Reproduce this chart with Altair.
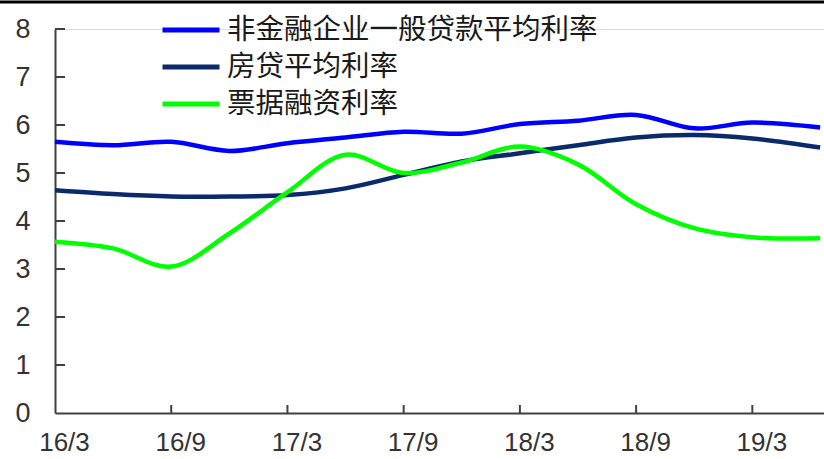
import altair as alt
import pandas as pd

series_names = ["非金融企业一般贷款平均利率", "房贷平均利率", "票据融资利率"]
series_colors = ["#0000FF", "#0A2A6B", "#00FF00"]

# month index from 2016-03 (0) ; quarterly observations
months = [0, 3, 6, 9, 12, 15, 18, 21, 24, 27, 30, 33, 36, 39.5]
corp_loan = [5.65, 5.58, 5.65, 5.46, 5.62, 5.74, 5.86, 5.82, 6.02, 6.09, 6.21, 5.93, 6.05, 5.95]
mortgage = [4.64, 4.56, 4.51, 4.51, 4.54, 4.68, 4.96, 5.24, 5.41, 5.58, 5.74, 5.79, 5.72, 5.53]
bill = [3.57, 3.43, 3.05, 3.74, 4.60, 5.38, 5.00, 5.22, 5.55, 5.18, 4.35, 3.85, 3.66, 3.64]

x_tick_values = [0, 6, 12, 18, 24, 30, 36]
x_tick_labels = ["16/3", "16/9", "17/3", "17/9", "18/3", "18/9", "19/3"]
y_tick_values = [0, 1, 2, 3, 4, 5, 6, 7, 8]

rows = []
for name, vals in zip(series_names, [corp_loan, mortgage, bill]):
    for m, v in zip(months, vals):
        rows.append({"m": m, "v": v, "s": name})
df = pd.DataFrame(rows)

W, H = 769, 384
x_scale = alt.Scale(domain=[0, 39.7], nice=False, zero=False)
y_scale = alt.Scale(domain=[0, 8], nice=False)

label_arr = "[" + ",".join("'%s'" % t for t in x_tick_labels) + "]"

x_axis = alt.Axis(values=x_tick_values, title=None, ticks=False, grid=False,
                  labelExpr=label_arr + "[round(datum.value/6)]",
                  labelFont="Liberation Sans", labelFontSize=26, labelFlush=False,
                  labelColor="#333333", labelPadding=16, labelOffset=9,
                  domainColor="#404040", domainWidth=2)
y_axis = alt.Axis(values=y_tick_values, title=None, ticks=False, grid=False,
                  labelFont="Liberation Sans", labelFontSize=27, labelFlush=False,
                  labelColor="#333333", labelPadding=25,
                  domainColor="#404040", domainWidth=2)

lines = alt.Chart(df).mark_line(
    strokeWidth=4.5, interpolate="catmull-rom"
).encode(
    x=alt.X("m:Q", scale=x_scale, axis=x_axis),
    y=alt.Y("v:Q", scale=y_scale, axis=y_axis),
    color=alt.Color("s:N", sort=series_names,
                    scale=alt.Scale(domain=series_names, range=series_colors),
                    legend=alt.Legend(title=None, orient="none", legendX=105, legendY=-14,
                                      symbolType="stroke", symbolStrokeWidth=5,
                                      symbolSize=3249, clipHeight=30, rowPadding=7,
                                      labelFont="Noto Sans CJK SC", labelFontSize=28.5,
                                      labelColor="#1a1a1a", labelOffset=5, padding=0,
                                      labelLimit=600)),
)

ytick_df = pd.DataFrame({"t": y_tick_values[1:]})
yticks = alt.Chart(ytick_df).mark_rule(color="#404040", strokeWidth=2).encode(
    y=alt.Y("t:Q", scale=y_scale, axis=y_axis),
    x=alt.value(0), x2=alt.value(10),
)
xtick_df = pd.DataFrame({"t": x_tick_values[1:]})
xticks = alt.Chart(xtick_df).mark_rule(color="#404040", strokeWidth=2).encode(
    x=alt.X("t:Q", scale=x_scale, axis=x_axis),
    y=alt.value(H), y2=alt.value(H - 8),
)
topline = alt.Chart(pd.DataFrame({"a": [0]})).mark_rule(color="#000000", strokeWidth=3).encode(
    x=alt.value(-55), x2=alt.value(W), y=alt.value(-27),
)

chart = alt.layer(lines, yticks, xticks, topline).properties(
    width=W, height=H,
    autosize=alt.AutoSizeParams(type="none"),
    padding={"left": 55, "top": 29, "right": 0, "bottom": 46},
).configure_view(stroke=None).configure(background="white")

chart.save("out.html", embed_options={"renderer": "svg", "actions": False})
